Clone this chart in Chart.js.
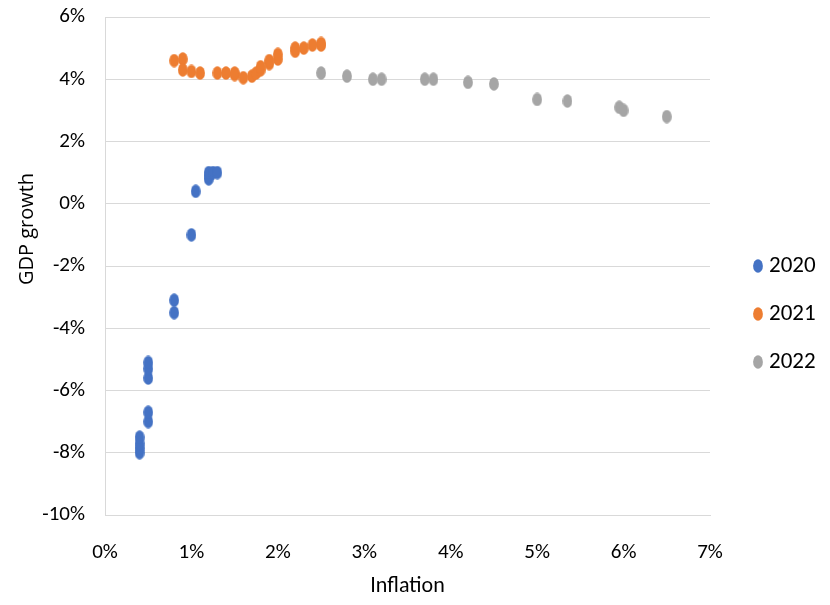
<!DOCTYPE html>
<html>
<head>
<meta charset="utf-8">
<script src="https://cdn.jsdelivr.net/npm/chart.js@4.4.1/dist/chart.umd.min.js"></script>
<style>
  html, body { margin: 0; padding: 0; background: #ffffff; }
  #wrap { width: 830px; height: 605px; }
</style>
</head>
<body>
<div id="wrap"><canvas id="chart" width="830" height="605"></canvas></div>
<script>
// Inflation (%) and GDP growth (%) by year
const inflation2020 = [0.4, 0.4, 0.4, 0.4, 0.5, 0.5, 0.5, 0.5, 0.5, 0.8, 0.8, 1.0, 1.05, 1.2, 1.2, 1.2, 1.25, 1.3];
const growth2020    = [-8.0, -7.85, -7.7, -7.5, -7.0, -6.7, -5.6, -5.3, -5.1, -3.5, -3.1, -1.0, 0.4, 0.8, 0.9, 1.0, 1.0, 1.0];

const inflation2021 = [0.8, 0.9, 0.9, 1.0, 1.1, 1.3, 1.4, 1.5, 1.5, 1.6, 1.7, 1.75, 1.8, 1.8, 1.9, 1.9, 2.0, 2.0, 2.2, 2.2, 2.3, 2.4, 2.5, 2.5];
const growth2021    = [4.6, 4.65, 4.3, 4.25, 4.2, 4.2, 4.2, 4.15, 4.2, 4.05, 4.1, 4.2, 4.3, 4.4, 4.5, 4.6, 4.65, 4.8, 4.9, 5.0, 5.0, 5.1, 5.1, 5.15];

const inflation2022 = [2.5, 2.8, 3.1, 3.2, 3.7, 3.8, 4.2, 4.5, 5.0, 5.35, 5.95, 6.0, 6.5];
const growth2022    = [4.2, 4.1, 4.0, 4.0, 4.0, 4.0, 3.9, 3.85, 3.35, 3.3, 3.1, 3.0, 2.8];

const seriesLabels = ['2020', '2021', '2022'];
const seriesColors = ['#4472C4', '#ED7D31', '#A5A5A5'];

const xTicks = [0, 1, 2, 3, 4, 5, 6, 7];
const yTicks = [-10, -8, -6, -4, -2, 0, 2, 4, 6];

const TICK_FONT = '"Liberation Sans Narrow", "Carlito", "Arial Narrow", sans-serif';

// oval marker used for the points and the legend
function ovalMark(color) {
  const c = document.createElement('canvas');
  c.width = 10; c.height = 14;
  const g = c.getContext('2d');
  g.fillStyle = color;
  g.beginPath();
  g.ellipse(5, 7, 4.9, 6.7, 0, 0, Math.PI * 2);
  g.fill();
  return c;
}

function pairUp(xs, ys) {
  return xs.map((x, i) => ({ x: x, y: ys[i] }));
}

const seriesData = [
  pairUp(inflation2020, growth2020),
  pairUp(inflation2021, growth2021),
  pairUp(inflation2022, growth2022)
];

const marks = seriesColors.map(ovalMark);

const datasets = seriesLabels.map((label, i) => ({
  label: label,
  data: seriesData[i],
  pointStyle: marks[i],
  backgroundColor: seriesColors[i],
  borderColor: seriesColors[i],
  pointRadius: 6,
  pointHoverRadius: 6
}));

// axis titles and the legend on the right
const sideText = {
  id: 'sideText',
  afterDraw(chart) {
    const ctx = chart.ctx;
    const area = chart.chartArea;
    ctx.save();
    ctx.fillStyle = '#000000';
    ctx.textAlign = 'center';
    ctx.textBaseline = 'middle';

    ctx.font = '22px ' + TICK_FONT;
    ctx.fillText('Inflation', (area.left + area.right) / 2, 586);

    ctx.save();
    ctx.translate(27, 229);
    ctx.rotate(-Math.PI / 2);
    ctx.font = '20px "Open Sans", sans-serif';
    ctx.fillText('GDP growth', 0, 0);
    ctx.restore();

    ctx.textAlign = 'left';
    ctx.font = '23px ' + TICK_FONT;
    chart.data.datasets.forEach((ds, i) => {
      const y = 265 + i * 48;
      const m = ds.pointStyle;
      ctx.drawImage(m, 758 - m.width / 2, y - m.height / 2 + 1);
      ctx.fillText(ds.label, 769, y + 1);
    });
    ctx.restore();
  }
};

new Chart(document.getElementById('chart'), {
  type: 'scatter',
  data: { datasets: datasets },
  options: {
    responsive: false,
    animation: false,
    devicePixelRatio: 1,
    layout: { padding: { top: 17, right: 120, bottom: 0, left: 0 } },
    plugins: {
      legend: { display: false },
      tooltip: { enabled: false }
    },
    scales: {
      x: {
        type: 'linear',
        min: 0,
        max: 7,
        afterBuildTicks(scale) { scale.ticks = xTicks.map(v => ({ value: v })); },
        afterFit(scale) { scale.height = 90; },
        grid: { display: false, drawTicks: false },
        border: { display: true, color: '#D9D9D9', width: 1 },
        ticks: {
          padding: 25,
          color: '#000000',
          font: { family: TICK_FONT, size: 21 },
          callback: v => v + '%'
        }
      },
      y: {
        type: 'linear',
        min: -10,
        max: 6,
        afterBuildTicks(scale) { scale.ticks = yTicks.map(v => ({ value: v })); },
        afterFit(scale) {
          scale.width = 105;
          scale.paddingTop = 0;
          scale.paddingBottom = 0;
        },
        grid: { display: true, color: '#D9D9D9', lineWidth: 1, drawTicks: false },
        border: { display: true, color: '#D9D9D9', width: 1 },
        ticks: {
          padding: 20,
          color: '#000000',
          font: { family: TICK_FONT, size: 21 },
          callback: v => v + '%'
        }
      }
    }
  },
  plugins: [sideText]
});
</script>
</body>
</html>
